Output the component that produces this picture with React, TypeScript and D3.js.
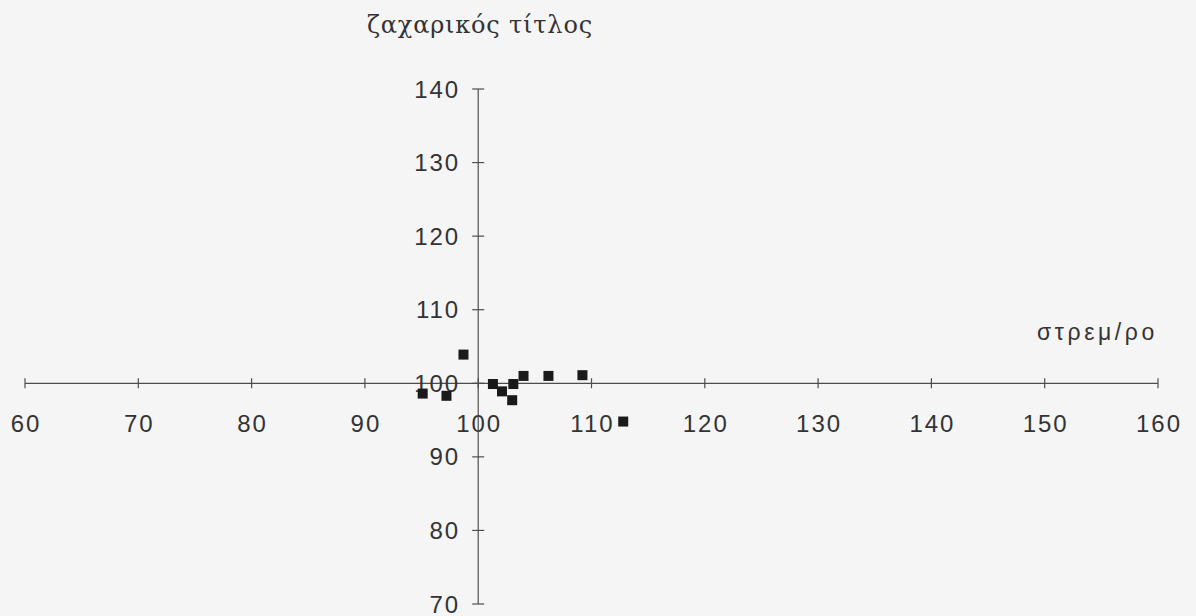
import React from "react";
import * as d3 from "d3";

// Scatter of sugar content against yield per stremma (index values, 100 = base)
const yieldIndex = [95.1, 97.2, 98.7, 101.3, 102.1, 103.0, 103.1, 104.0, 106.2, 109.2, 112.8];
const sugarIndex = [98.6, 98.3, 103.9, 99.9, 98.9, 97.7, 99.9, 101.0, 101.0, 101.1, 94.8];
const xTicks = [60, 70, 80, 90, 100, 110, 120, 130, 140, 150, 160];
const yTicks = [70, 80, 90, 100, 110, 120, 130, 140];
const yTitle = "ζαχαρικός τίτλος";
const xTitle = "στρεμ/ρο";

const W = 1196;
const H = 616;

export default function App() {
  const x = d3.scaleLinear().domain([60, 160]).range([25, 1158]);
  const y = d3.scaleLinear().domain([70, 140]).range([604, 89]);
  const axisColor = "#4d4d4d";
  const textColor = "#333";
  const sans = "'Liberation Sans', Arial, sans-serif";
  const tickFont = 24;
  const tickSpacing = 2;
  const x0 = x(100);
  const y0 = y(100);
  const size = 10;

  return (
    <svg
      width={W}
      height={H}
      style={{ position: "absolute", left: 0, top: 0, background: "#f5f5f5" }}
    >
      {/* horizontal axis through y = 100 */}
      <line x1={x(60)} x2={x(160)} y1={y0} y2={y0} stroke={axisColor} strokeWidth={1.2} />
      {xTicks.map((t) => (
        <g key={"xt" + t}>
          <line x1={x(t)} x2={x(t)} y1={y0 - 5} y2={y0 + 5} stroke={axisColor} strokeWidth={1.2} />
          <text
            x={x(t) + tickSpacing / 2}
            y={y0 + 49}
            textAnchor="middle"
            fontFamily={sans}
            fontSize={tickFont}
            letterSpacing={tickSpacing}
            fill={textColor}
          >
            {t}
          </text>
        </g>
      ))}

      {/* vertical axis through x = 100 */}
      <line x1={x0} x2={x0} y1={y(70)} y2={y(140)} stroke={axisColor} strokeWidth={1.2} />
      {yTicks.map((t) => (
        <g key={"yt" + t}>
          <line x1={x0 - 6} x2={x0 + 6} y1={y(t)} y2={y(t)} stroke={axisColor} strokeWidth={1.2} />
          <text
            x={x0 - 20 + tickSpacing}
            y={y(t)}
            dy="0.36em"
            textAnchor="end"
            fontFamily={sans}
            fontSize={tickFont}
            letterSpacing={tickSpacing}
            fill={textColor}
          >
            {t}
          </text>
        </g>
      ))}

      {/* axis titles */}
      <text
        x={367}
        y={33}
        fontFamily="'DejaVu Serif', serif"
        fontSize={24}
        letterSpacing={0.8}
        fill={textColor}
      >
        {yTitle}
      </text>
      <text
        x={1037}
        y={340}
        fontFamily={sans}
        fontSize={23}
        letterSpacing={3.6}
        fill={textColor}
      >
        {xTitle}
      </text>

      {/* data points */}
      {yieldIndex.map((v, i) => (
        <rect
          key={"p" + i}
          x={x(v) - size / 2}
          y={y(sugarIndex[i]) - size / 2}
          width={size}
          height={size}
          fill="#1a1a1a"
        />
      ))}
    </svg>
  );
}
